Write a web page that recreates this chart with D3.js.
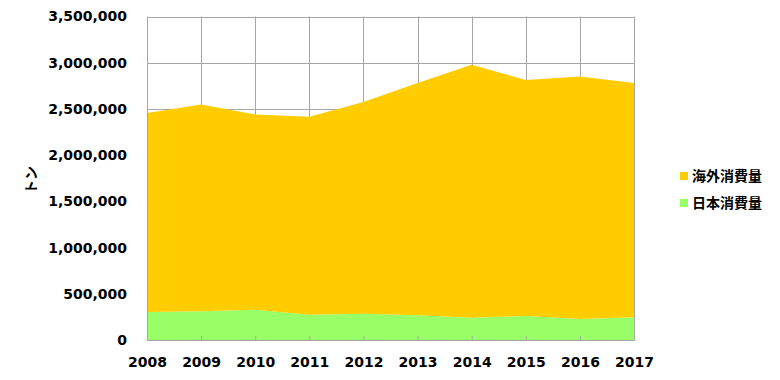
<!DOCTYPE html>
<html>
<head>
<meta charset="utf-8">
<title>消費量</title>
<script src="https://cdn.jsdelivr.net/npm/d3@7"></script>
<style>
body { margin: 0; background: #fff; }
text { font-family: "DejaVu Sans", Verdana, sans-serif; font-weight: bold; fill: #000; }
</style>
</head>
<body>
<div id="chart"></div>
<script>
// values in tonnes
var years = [2008, 2009, 2010, 2011, 2012, 2013, 2014, 2015, 2016, 2017];
var japan = [302000, 310000, 327000, 273000, 284000, 267000, 241000, 259000, 227000, 245000];
var overseas = [2153000, 2239000, 2114000, 2143000, 2291000, 2513000, 2737000, 2553000, 2625000, 2535000];
var yTicks = [0, 500000, 1000000, 1500000, 2000000, 2500000, 3000000, 3500000];
var seriesNames = ["日本消費量", "海外消費量"];
var colors = ["#99FF66", "#FFCC00"];

var w = 780, h = 380;
// plot box (note: "top" is taken by window.top, so use a margin object)
var plot = { left: 147, right: 634, top: 16.5, bottom: 340 };

var svg = d3.select("#chart").append("svg")
    .attr("width", w)
    .attr("height", h);

var x = d3.scaleLinear().domain([years[0], years[years.length - 1]]).range([plot.left, plot.right]);
var y = d3.scaleLinear().domain([0, 3500000]).range([plot.bottom, plot.top]);

// gridlines
svg.append("g").selectAll("line")
    .data(yTicks)
    .enter().append("line")
    .attr("x1", plot.left).attr("x2", plot.right)
    .attr("y1", function(d) { return Math.round(y(d)) + 0.5; })
    .attr("y2", function(d) { return Math.round(y(d)) + 0.5; })
    .attr("stroke", "#a6a6a6").attr("stroke-width", 1);

svg.append("g").selectAll("line")
    .data(years)
    .enter().append("line")
    .attr("y1", plot.top).attr("y2", plot.bottom)
    .attr("x1", function(d) { return Math.round(x(d)) + 0.5; })
    .attr("x2", function(d) { return Math.round(x(d)) + 0.5; })
    .attr("stroke", "#a6a6a6").attr("stroke-width", 1);

// stacked areas
var rows = years.map(function(yr, i) { return { year: yr, japan: japan[i], overseas: overseas[i] }; });
var layers = d3.stack().keys(["japan", "overseas"])(rows);

var area = d3.area()
    .x(function(d) { return x(d.data.year); })
    .y0(function(d) { return y(d[0]); })
    .y1(function(d) { return y(d[1]); });

svg.append("g").selectAll("path")
    .data(layers)
    .enter().append("path")
    .attr("d", area)
    .attr("fill", function(d, i) { return colors[i]; });

// axes
var yAxis = d3.axisLeft(y).tickValues(yTicks).tickSize(0).tickPadding(20)
    .tickFormat(d3.format(","));
var gy = svg.append("g").attr("transform", "translate(" + plot.left + ",0)").call(yAxis);
gy.select(".domain").attr("stroke", "#a6a6a6");
gy.selectAll("text").style("font-size", "14px").attr("fill", "#000");

var xAxis = d3.axisBottom(x).tickValues(years).tickSize(-4).tickPadding(17)
    .tickFormat(d3.format("d"));
var gx = svg.append("g").attr("transform", "translate(0," + plot.bottom + ")").call(xAxis);
gx.select(".domain").attr("stroke", "#a6a6a6");
gx.selectAll("line").attr("stroke", "#a6a6a6");
gx.selectAll("text").style("font-size", "14px").attr("fill", "#000");

// y title
svg.append("text")
    .attr("transform", "translate(36,180) rotate(-90)")
    .attr("text-anchor", "middle")
    .style("font-size", "14px")
    .style("font-family", "'Noto Sans CJK JP', sans-serif")
    .text("トン");

// legend, overseas first
var legend = svg.append("g").selectAll("g")
    .data([1, 0])
    .enter().append("g")
    .attr("transform", function(d, i) { return "translate(680," + (176 + i * 27) + ")"; });

legend.append("rect")
    .attr("x", 0).attr("y", -4).attr("width", 8).attr("height", 8)
    .attr("fill", function(d) { return colors[d]; });

legend.append("text")
    .attr("x", 12).attr("y", 5)
    .style("font-size", "14px")
    .style("font-family", "'Noto Sans CJK JP', sans-serif")
    .text(function(d) { return seriesNames[d]; });
</script>
</body>
</html>
